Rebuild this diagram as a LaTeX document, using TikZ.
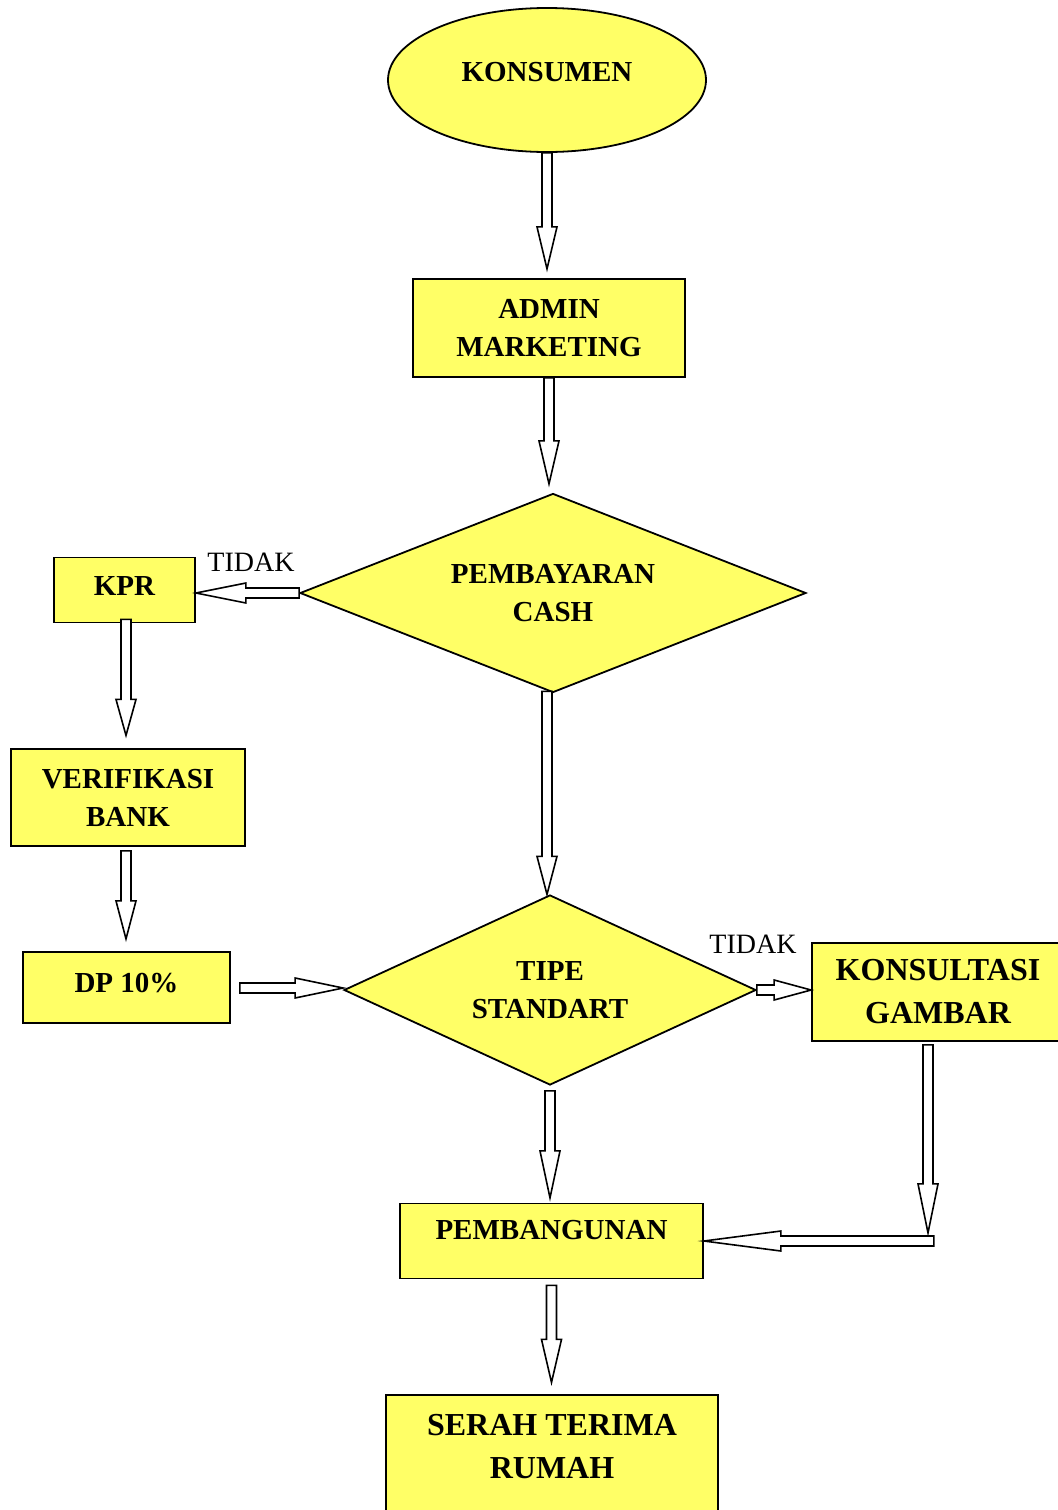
\documentclass[tikz,border=0pt]{standalone}
\usepackage{fontspec}
\setmainfont{Liberation Serif}
\usetikzlibrary{calc,shapes.geometric}
\definecolor{boxyellow}{HTML}{FFFF66}

\tikzset{
  flow/.style={draw, line width=0.9pt, fill=boxyellow, inner sep=0pt, align=center,
    font=\bfseries\fontsize{14.5}{19}\selectfont},
  box/.style={flow, rectangle},
  bigbox/.style={box, font=\bfseries\fontsize{16}{21.5}\selectfont},
  decision/.style={flow, diamond},
  lbl/.style={font=\fontsize{14}{16}\selectfont},
  blockline/.style={draw, line width=0.8pt, fill=white, line join=miter},
}

% hollow block arrow from #2 to #3, head length #1
\newcommand\blockarrow[3][21pt]{%
  \draw[blockline] let \p1=($(#3)-(#2)$), \n1={veclen(\x1,\y1)}, \n2={atan2(\y1,\x1)} in
    [shift={(#2)}, rotate=\n2]
    (0pt,-2.5pt) -- ({\n1*1pt-#1},-2.5pt) -- ({\n1*1pt-#1},-5pt) -- ({\n1*1pt},0pt)
    -- ({\n1*1pt-#1},5pt) -- ({\n1*1pt-#1},2.5pt) -- (0pt,2.5pt) -- cycle;}

\begin{document}
\begin{tikzpicture}[x=0.5pt, y=-0.5pt]
\useasboundingbox (0,0) rectangle (1057,1510);

\node[flow, ellipse, minimum width=159pt, minimum height=72pt, text depth=8pt] (konsumen) at (547,80) {KONSUMEN};
\node[box, minimum width=136pt, minimum height=49pt] (admin) at (549,328) {ADMIN\\MARKETING};
\node[decision, aspect=2.54, minimum width=253pt, minimum height=99.5pt] (cash) at (553,593) {PEMBAYARAN\\CASH};
\node[box, minimum width=70.5pt, minimum height=32.5pt, text depth=4.5pt] (kpr) at (124.5,590) {KPR};
\node[box, minimum width=117pt, minimum height=48.5pt] (verif) at (128,797.5) {VERIFIKASI\\BANK};
\node[box, minimum width=103.5pt, minimum height=35.5pt, text depth=5pt] (dp) at (126.5,987.5) {DP 10\%};
\node[decision, aspect=2.17, minimum width=206pt, minimum height=95pt] (tipe) at (550,990) {TIPE\\STANDART};
\node[bigbox, minimum width=126pt, minimum height=49pt] (konsul) at (938,992) {KONSULTASI\\GAMBAR};
\node[box, minimum width=151.5pt, minimum height=37.5pt, text depth=11pt] (pemb) at (551.5,1241) {PEMBANGUNAN};
\node[bigbox, minimum width=166pt, minimum height=65pt, text depth=14pt] (serah) at (552,1460) {SERAH TERIMA\\RUMAH};

\node[lbl] (tidak1) at (251,562) {TIDAK};
\node[lbl] (tidak2) at (753,944) {TIDAK};

\coordinate (t1) at ($(konsumen.south)+(0,116)$);
\coordinate (t2) at ($(admin.south)+(0,106)$);
\coordinate (t3) at (kpr.east |- cash.west);
\coordinate (s4) at ($(kpr.south)+(1.5,-4)$);
\coordinate (t4) at ($(s4)+(0,116)$);
\coordinate (s5) at ($(verif.south)+(-2,4)$);
\coordinate (t5) at ($(s5)+(0,88)$);
\coordinate (s6) at ($(cash.south)+(-6,-2)$);
\coordinate (t6) at ($(s6)+(0,203)$);
\coordinate (s7) at ($(dp.east |- tipe.west)+(9,-2)$);
\coordinate (t7) at ($(tipe.west)+(0,-2)$);
\coordinate (t8) at (konsul.west |- tipe.east);
\coordinate (s9) at ($(tipe.south)+(0,5)$);
\coordinate (t9) at ($(s9)+(0,107)$);
\coordinate (s10) at ($(konsul.south)+(-10,3)$);
\coordinate (t10) at ($(s10)+(0,188)$);
\coordinate (bend) at ($(pemb.east)+(230,0)$);
\coordinate (s11) at ($(pemb.south)+(0,6)$);
\coordinate (t11) at ($(s11)+(0,97)$);

\blockarrow{konsumen.south}{t1}
\blockarrow[21.5pt]{admin.south}{t2}
\blockarrow[25pt]{cash.west}{t3}
\blockarrow[18pt]{s4}{t4}
\blockarrow[19pt]{s5}{t5}
\blockarrow[19pt]{s6}{t6}
\blockarrow[24pt]{s7}{t7}
\blockarrow[18.5pt]{tipe.east}{t8}
\blockarrow[23.5pt]{s9}{t9}
\blockarrow[24.5pt]{s10}{t10}
\blockarrow[38.5pt]{bend}{pemb.east}
\blockarrow[21.5pt]{s11}{t11}
\end{tikzpicture}
\end{document}
